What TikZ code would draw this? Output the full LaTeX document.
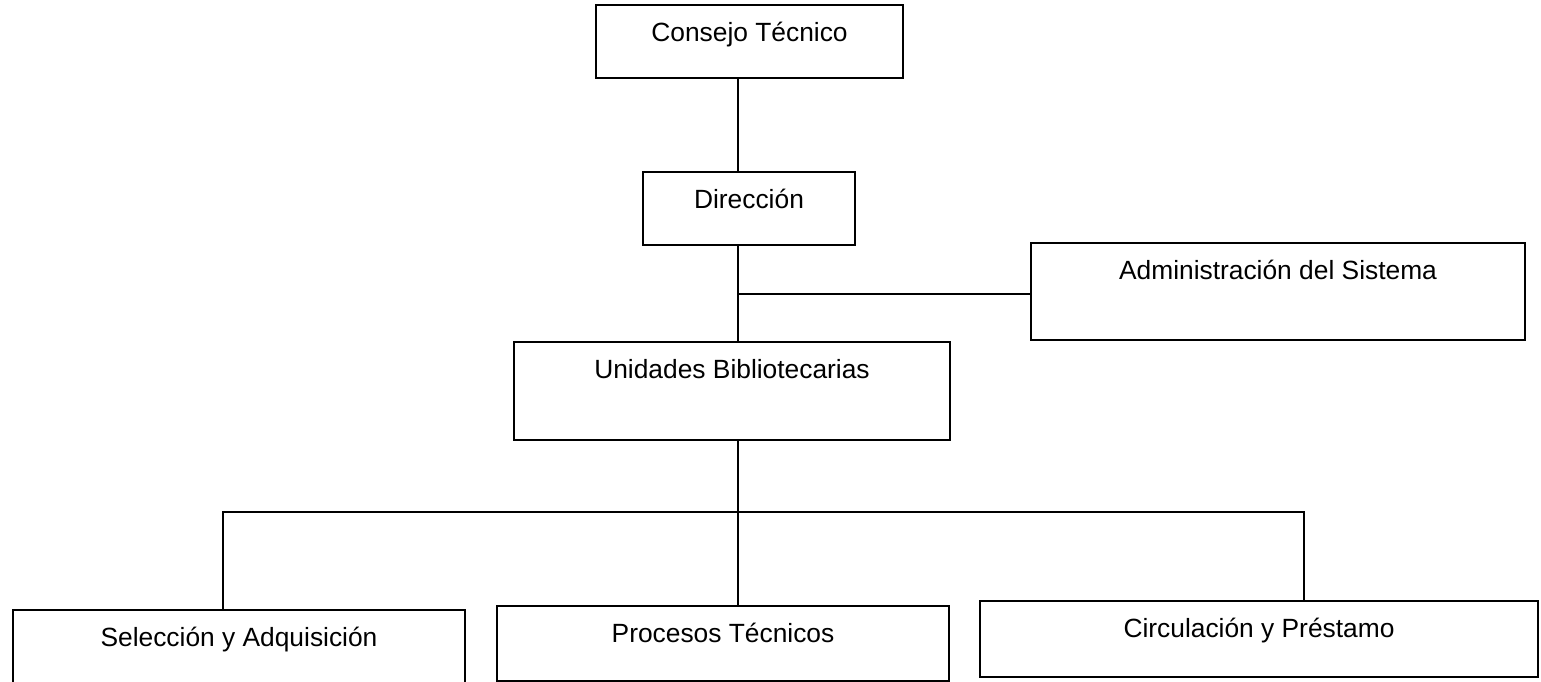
\documentclass[tikz,border=0pt]{standalone}
\usepackage{fontspec}
\setmainfont{Liberation Sans}
\usepackage{tikz}
\usetikzlibrary{positioning, calc}

\begin{document}
\begin{tikzpicture}[x=0.02cm, y=-0.02cm,
    orgbox/.style={draw, line width=1pt, inner sep=0pt},
    orgtext/.style={anchor=base, yshift=-0.74cm, font=\fontsize{15}{18}\selectfont},
    link/.style={line width=1pt}]
    \useasboundingbox (0,0) rectangle (1541,682);

    % Top levels
    \node[orgbox, minimum width=6.14cm, minimum height=1.46cm,
          label={[orgtext]north:Consejo Técnico}] (ct) at (749.5,41.5) {};
    \node[orgbox, minimum width=4.24cm, minimum height=1.46cm,
          label={[orgtext]north:Dirección}] (dir) at (749,208.5) {};
    \node[orgbox, minimum width=9.88cm, minimum height=1.94cm,
          label={[orgtext]north:Administración del Sistema}] (adm) at (1278,291.5) {};
    \node[orgbox, minimum width=8.72cm, minimum height=1.96cm,
          label={[orgtext]north:Unidades Bibliotecarias}] (ub) at (732,391) {};

    % Bottom level
    \node[orgbox, minimum width=9.04cm, minimum height=1.48cm,
          label={[orgtext]north:Selección y Adquisición}] (sa) at (239,647) {};
    \node[orgbox, minimum width=9.04cm, minimum height=1.5cm,
          label={[orgtext]north:Procesos Técnicos}] (pt) at (723,643.5) {};
    \node[orgbox, minimum width=11.16cm, minimum height=1.52cm,
          label={[orgtext]north:Circulación y Préstamo}] (cp) at (1259,639) {};

    % Trunk and branches
    \coordinate (trunk) at (738,0);
    \coordinate (bar) at (738,512);
    \draw[link] (ct.south -| trunk) -- (dir.north -| trunk);
    \draw[link] (dir.south -| trunk) -- (ub.north -| trunk);
    \draw[link] ([yshift=-0.05cm]adm.west) -- ([yshift=-0.05cm]adm.west -| trunk);
    \draw[link] (ub.south -| trunk) -- (pt.north -| trunk);
    \draw[link] ([xshift=-0.32cm]sa.north) |- (bar) -| ([xshift=0.9cm]cp.north);
\end{tikzpicture}
\end{document}
